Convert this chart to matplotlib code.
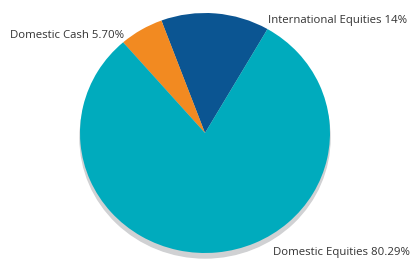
import numpy as np
import matplotlib.pyplot as plt
from matplotlib.patches import Circle

labels = ['International Equities 14%', 'Domestic Cash 5.70%', 'Domestic Equities 80.29%']
values = [14.0, 5.70, 80.29]
colors = ['#0b5592', '#f28a21', '#00abbd']

W, H = 413, 260
fig = plt.figure(figsize=(W/100, H/100), dpi=100)
ax = fig.add_axes([0, 0, 1, 1])

# pie centre (205,133) px, radius ~125 px wide, ~120 px tall
cx, cy, rx, ry = 205, 133, 125, 120

ax.add_patch(Circle((0, -5/ry), 1.0, color='#d0d1d3', zorder=0))
ax.pie(values, colors=colors, startangle=60, counterclock=True,
       wedgeprops=dict(linewidth=0))

ax.set_xlim(-cx/rx, (W-cx)/rx)
ax.set_ylim(-(H-cy)/ry, cy/ry)
ax.set_aspect('auto')
ax.axis('off')

font = dict(family=['Open Sans', 'DejaVu Sans'], fontsize=8.2, color='#333333', va='center', ha='left')
fig.text(268/W, 1-20/H, labels[0], **font)
fig.text(10/W, 1-35/H, labels[1], **font)
fig.text(273/W, 1-253/H, labels[2], **font)

fig.savefig('out.png', dpi=100)
